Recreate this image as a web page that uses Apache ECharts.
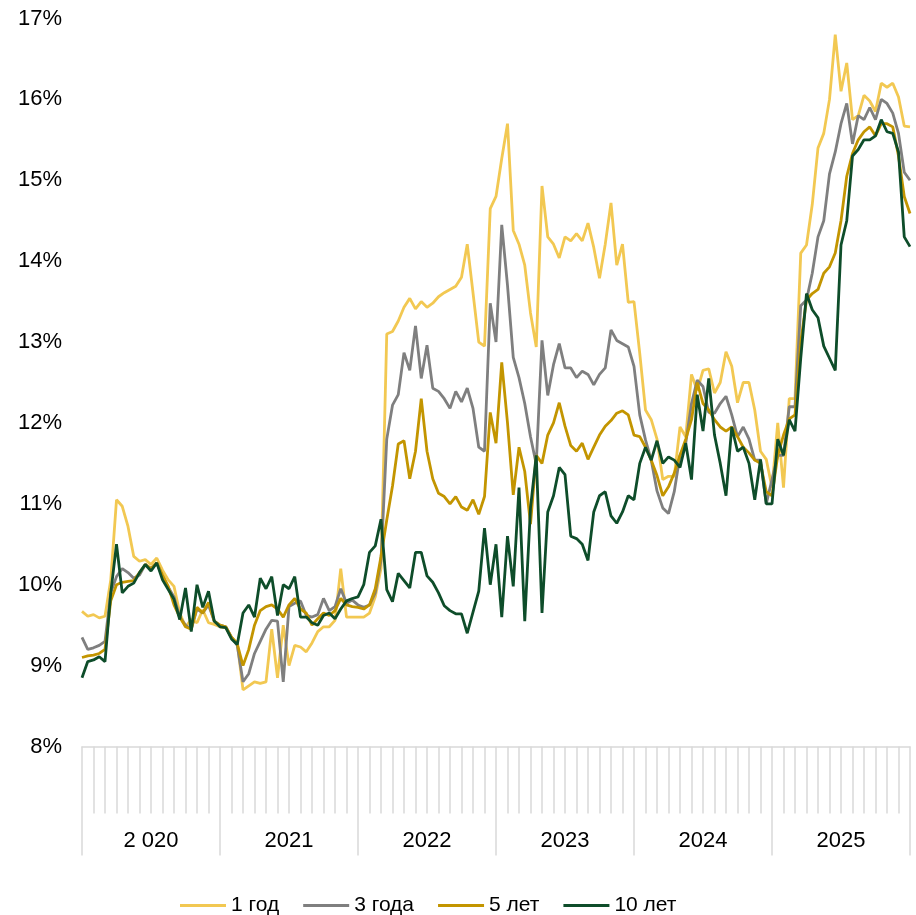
<!DOCTYPE html>
<html>
<head>
    <meta charset="utf-8">
    <title>Доходности</title>
    <style>
        html, body { margin: 0; padding: 0; background: #fff; }
        #chart { width: 916px; height: 915px; }
    </style>
</head>
<body>
    <div id="chart"></div>
    <script src="https://cdn.jsdelivr.net/npm/echarts@6/dist/echarts.min.js"></script>
    <script>
        // годы на оси (подписи как в оригинале)
        var yearLabels = ['2 020', '2021', '2022', '2023', '2024', '2025'];
        var monthNames = ['янв', 'фев', 'мар', 'апр', 'май', 'июн', 'июл', 'авг', 'сен', 'окт', 'ноя', 'дек'];
        var seriesNames = ['1 год', '3 года', '5 лет', '10 лет'];

        // значения по полумесяцам, янв 2020 ... янв 2026
        var y1 = [
            9.67, 9.61, 9.63, 9.59, 9.61, 10.06, 11.05, 10.97, 10.72, 10.35, 10.29, 10.31, 10.25, 10.33, 10.18, 10.06, 9.98, 9.65, 9.48, 9.57, 9.53, 9.69, 9.53, 9.51,
            9.48, 9.47, 9.35, 9.28, 8.7, 8.75, 8.8, 8.78, 8.8, 9.45, 8.85, 9.5, 9.0, 9.25, 9.23, 9.17, 9.28, 9.42, 9.48, 9.48, 9.56, 10.2, 9.6, 9.6,
            9.6, 9.6, 9.65, 9.85, 10.2, 13.1, 13.13, 13.26, 13.43, 13.54, 13.41, 13.5, 13.43, 13.48, 13.56, 13.61, 13.65, 13.69, 13.8, 14.21, 13.61, 13.0, 12.95, 14.65,
            14.8, 15.27, 15.7, 14.38, 14.21, 13.95, 13.36, 12.94, 14.93, 14.3, 14.21, 14.04, 14.3, 14.25, 14.34, 14.25, 14.47, 14.17, 13.79, 14.21, 14.72, 13.95, 14.21, 13.49,
            13.5, 12.86, 12.16, 12.04, 11.8, 11.3, 11.34, 11.34, 11.95, 11.83, 12.6, 12.4, 12.65, 12.67, 12.37, 12.5, 12.88, 12.7, 12.25, 12.5, 12.5, 12.16, 11.65, 11.55,
            11.2, 12.0, 11.2, 12.3, 12.3, 14.1, 14.2, 14.7, 15.4, 15.58, 16.0, 16.8, 16.1, 16.45, 15.75, 15.8, 16.05, 15.98, 15.85, 16.2, 16.15, 16.2, 16.03, 15.67, 15.66
        ];
        var y3 = [
            9.35, 9.2, 9.22, 9.25, 9.3, 9.9, 10.1, 10.2, 10.15, 10.08, 10.12, 10.25, 10.2, 10.27, 10.1, 9.97, 9.85, 9.6, 9.5, 9.45, 9.7, 9.65, 9.75, 9.55,
            9.5, 9.48, 9.35, 9.25, 8.8, 8.9, 9.15, 9.3, 9.45, 9.56, 9.55, 8.8, 9.73, 9.77, 9.8, 9.62, 9.6, 9.63, 9.83, 9.68, 9.73, 9.95, 9.77, 9.81,
            9.75, 9.72, 9.75, 9.9, 10.3, 11.8, 12.22, 12.35, 12.87, 12.65, 13.2, 12.55, 12.96, 12.43, 12.39, 12.3, 12.18, 12.39, 12.26, 12.43, 12.18, 11.7, 11.65, 13.48,
            13.0, 14.45, 13.7, 12.81, 12.56, 12.24, 11.83, 11.49, 13.02, 12.34, 12.72, 12.98, 12.68, 12.68, 12.56, 12.64, 12.6, 12.47, 12.6, 12.68, 13.15, 13.02, 12.98, 12.94,
            12.7, 12.1, 11.79, 11.54, 11.16, 10.95, 10.88, 11.15, 11.6, 11.75, 12.24, 12.53, 12.45, 12.13, 12.12, 12.24, 12.33, 12.1, 11.83, 11.95, 11.8, 11.54, 11.54, 11.0,
            11.3, 11.6, 11.6, 12.2, 12.2, 13.45, 13.52, 13.85, 14.3, 14.5, 15.08, 15.35, 15.7, 15.95, 15.45, 15.8, 15.75, 15.9, 15.75, 16.0, 15.95, 15.83, 15.58, 15.1, 15.0
        ];
        var y5 = [
            9.1, 9.12, 9.13, 9.15, 9.2, 9.8, 10.0, 10.03, 10.04, 10.05, 10.15, 10.25, 10.2, 10.27, 10.12, 9.98, 9.75, 9.6, 9.48, 9.45, 9.72, 9.65, 9.78, 9.55,
            9.5, 9.48, 9.35, 9.27, 9.0, 9.2, 9.5, 9.68, 9.73, 9.75, 9.7, 9.6, 9.75, 9.83, 9.7, 9.65, 9.5, 9.58, 9.65, 9.62, 9.68, 9.83, 9.75, 9.73,
            9.72, 9.7, 9.75, 9.95, 10.35, 10.8, 11.22, 11.74, 11.78, 11.31, 11.65, 12.3, 11.65, 11.31, 11.13, 11.09, 11.0, 11.09, 10.96, 10.92, 11.05, 10.87, 11.09, 12.13,
            11.75, 12.75, 12.0, 11.11, 11.7, 11.4, 10.75, 11.6, 11.5, 11.85, 12.0, 12.25, 11.96, 11.72, 11.65, 11.75, 11.55, 11.7, 11.85, 11.96, 12.03, 12.12, 12.15, 12.1,
            11.85, 11.83, 11.7, 11.54, 11.35, 11.1, 11.21, 11.38, 11.6, 11.8, 12.04, 12.5, 12.24, 12.16, 12.04, 11.95, 11.9, 11.95, 11.83, 11.7, 11.63, 11.54, 11.5, 11.15,
            11.1, 11.6, 11.85, 12.05, 12.1, 13.0, 13.52, 13.6, 13.65, 13.85, 13.93, 14.1, 14.5, 15.05, 15.33, 15.5, 15.6, 15.66, 15.55, 15.7, 15.7, 15.66, 15.3, 14.8, 14.59
        ];
        var y10 = [
            8.85, 9.05, 9.07, 9.11, 9.05, 9.9, 10.5, 9.9, 9.98, 10.02, 10.15, 10.25, 10.17, 10.27, 10.06, 9.94, 9.82, 9.57, 9.96, 9.42, 10.0, 9.72, 9.92, 9.55,
            9.48, 9.47, 9.33, 9.26, 9.65, 9.75, 9.6, 10.08, 9.95, 10.1, 9.62, 10.0, 9.95, 10.1, 9.6, 9.6, 9.53, 9.5, 9.62, 9.65, 9.58, 9.7, 9.8, 9.83,
            9.85, 10.0, 10.4, 10.48, 10.81, 9.94, 9.79, 10.14, 10.05, 9.96, 10.4, 10.4, 10.11, 10.03, 9.9, 9.74, 9.68, 9.64, 9.64, 9.4, 9.66, 9.92, 10.7, 10.0,
            10.5, 9.6, 10.6, 9.98, 11.2, 9.55, 10.95, 11.6, 9.65, 10.9, 11.1, 11.45, 11.36, 10.6, 10.57, 10.5, 10.3, 10.9, 11.1, 11.15, 10.85, 10.76, 10.9, 11.1,
            11.05, 11.5, 11.7, 11.54, 11.78, 11.5, 11.58, 11.54, 11.45, 11.75, 11.3, 12.35, 11.9, 12.55, 11.85, 11.5, 11.1, 11.95, 11.65, 11.7, 11.5, 11.05, 11.55, 11.0,
            11.0, 11.8, 11.6, 12.04, 11.9, 12.8, 13.6, 13.4, 13.3, 12.95, 12.8, 12.65, 14.2, 14.5, 15.3, 15.38, 15.5, 15.5, 15.55, 15.75, 15.6, 15.58, 15.35, 14.3, 14.18
        ];

        var colors = ['#F2C852', '#7F7F7F', '#C39500', '#0E4D2A'];

        // категории: полумесяцы для линий, месяцы для засечек
        var periods = [];
        var months = [];
        for (var yi = 0; yi < 6; yi++) {
            for (var mi = 0; mi < 12; mi++) {
                var yr = 2020 + yi;
                months.push(monthNames[mi] + ' ' + yr);
                periods.push(monthNames[mi] + ' ' + yr + ' I');
                periods.push(monthNames[mi] + ' ' + yr + ' II');
            }
        }
        periods.push('янв 2026 I');

        var chart = echarts.init(document.getElementById('chart'));
        var data = [y1, y3, y5, y10];
        var series = data.map(function (vals, i) {
            return {
                name: seriesNames[i],
                type: 'line',
                xAxisIndex: 0,
                symbol: 'none',
                z: 2 + i,
                lineStyle: { color: colors[i], width: 2.8 },
                itemStyle: { color: colors[i] },
                data: vals
            };
        });

        var option = {
            animation: false,
            backgroundColor: '#fff',
            grid: { left: 82, right: 6, top: 18.5, bottom: 168.5 },
            legend: {
                data: seriesNames,
                icon: 'rect',
                left: 175,
                top: 890,
                itemWidth: 46,
                itemHeight: 3,
                itemGap: 24,
                textStyle: { fontSize: 21, color: '#000', fontFamily: 'Liberation Sans, Arial, sans-serif' }
            },
            xAxis: [{
                type: 'category',
                data: periods,
                boundaryGap: false,
                show: false
            }, {
                type: 'category',
                data: months,
                boundaryGap: true,
                position: 'bottom',
                offset: 0,
                axisLine: { show: true, lineStyle: { color: '#D9D9D9', width: 1.5 } },
                axisTick: { show: true, interval: 0, length: 67, lineStyle: { color: '#D9D9D9', width: 1.5 } },
                axisLabel: { show: false },
                splitLine: { show: false }
            }, {
                type: 'category',
                data: yearLabels,
                boundaryGap: true,
                position: 'bottom',
                offset: 0,
                axisLine: { show: false },
                axisTick: { show: true, interval: 0, length: 109, lineStyle: { color: '#D9D9D9', width: 1.5 } },
                axisLabel: {
                    interval: 0,
                    margin: 83,
                    fontSize: 22,
                    color: '#000',
                    fontFamily: 'Liberation Sans, Arial, sans-serif'
                },
                splitLine: { show: false }
            }],
            yAxis: {
                type: 'value',
                min: 8,
                max: 17,
                interval: 1,
                axisLine: { show: false },
                axisTick: { show: false },
                splitLine: { show: false },
                axisLabel: {
                    formatter: '{value}%',
                    margin: 20,
                    fontSize: 22,
                    color: '#000',
                    fontFamily: 'Liberation Sans, Arial, sans-serif'
                }
            },
            series: series
        };
        chart.setOption(option);
    </script>
</body>
</html>
